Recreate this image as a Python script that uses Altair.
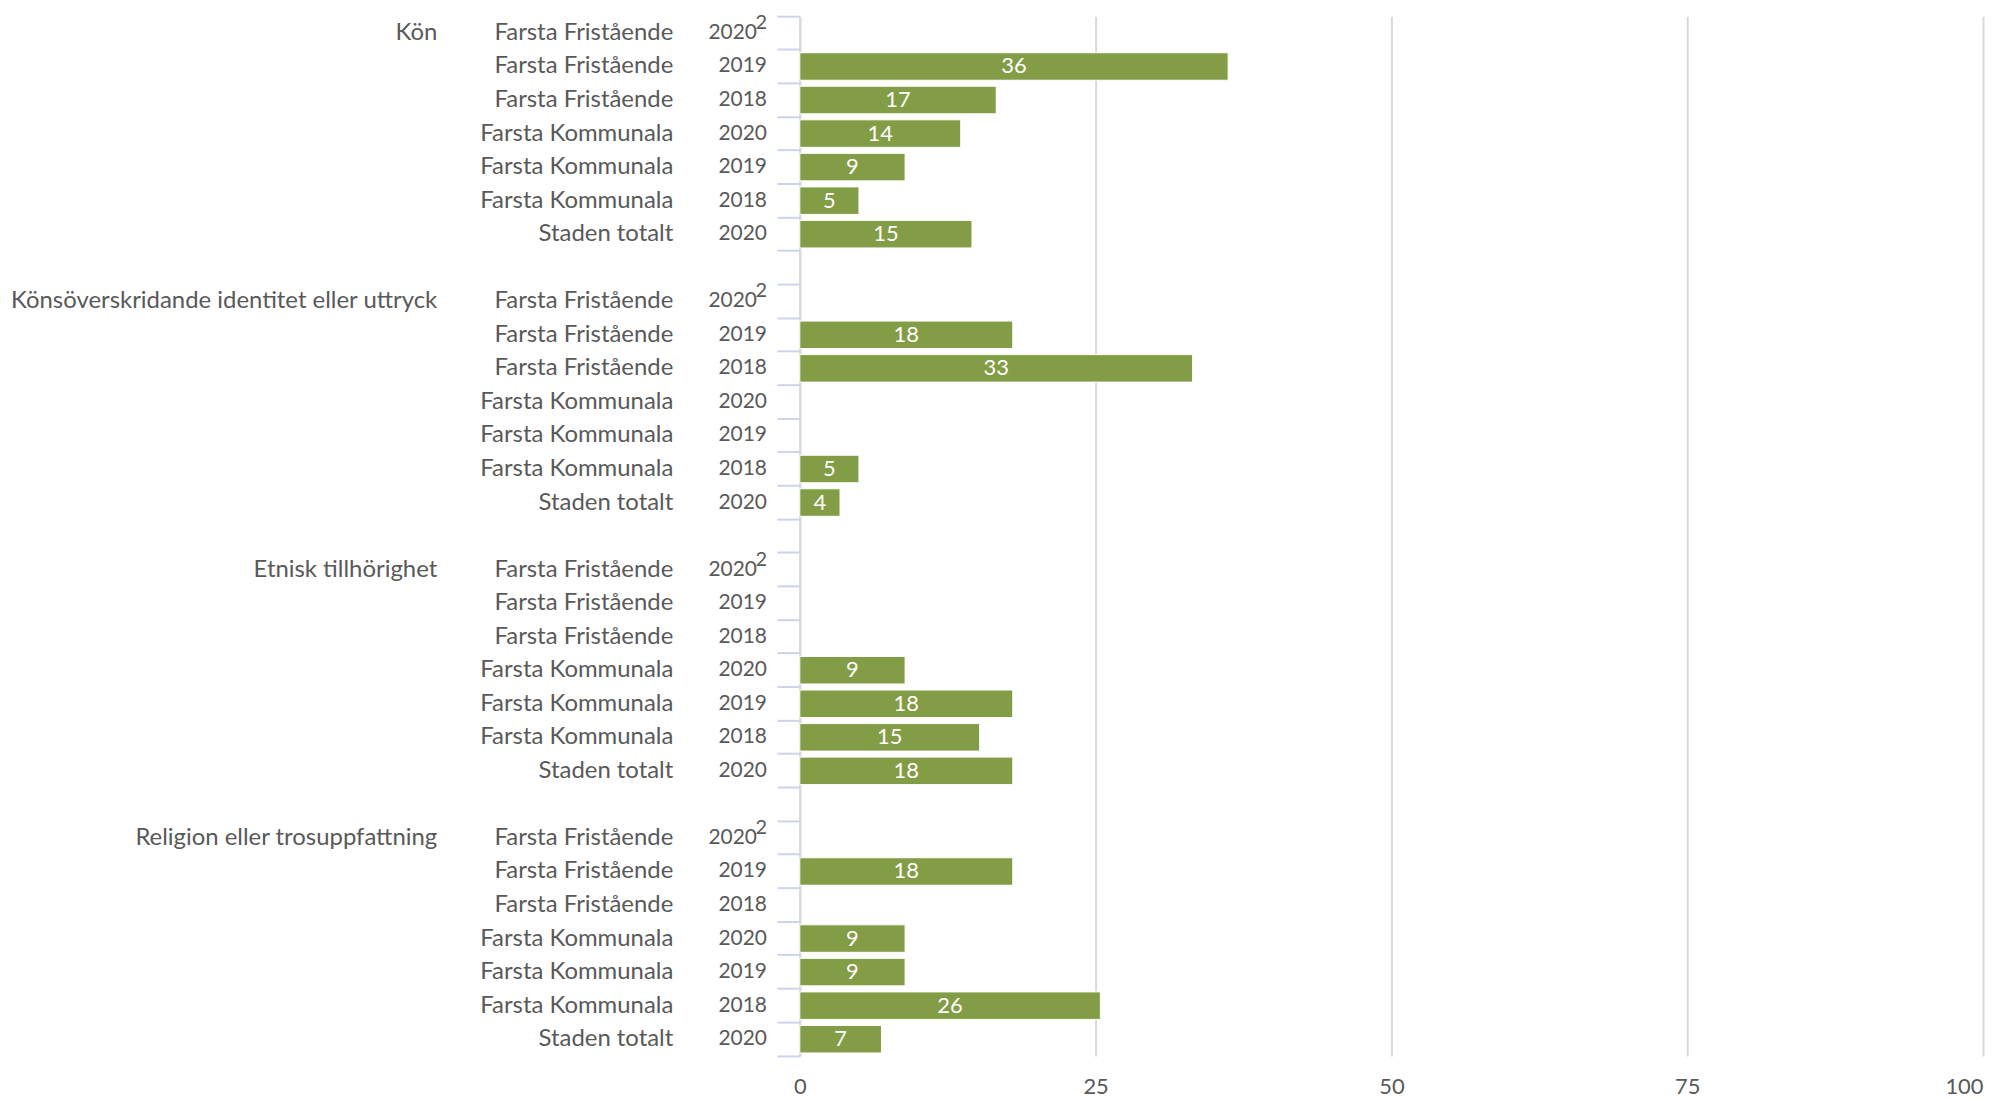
import altair as alt
import pandas as pd

groups = ["Kön", "Könsöverskridande identitet eller uttryck", "Etnisk tillhörighet", "Religion eller trosuppfattning"]
schools = ["Farsta Fristående", "Farsta Fristående", "Farsta Fristående",
           "Farsta Kommunala", "Farsta Kommunala", "Farsta Kommunala", "Staden totalt"]
years = ["2020", "2019", "2018", "2020", "2019", "2018", "2020"]
year_notes = ["2", "", "", "", "", "", ""]

values_kon = [None, 36.2, 16.6, 13.6, 8.9, 5.0, 14.55]
values_konsoverskr = [None, 18.0, 33.2, None, None, 5.0, 3.4]
values_etnisk = [None, None, None, 8.9, 18.0, 15.2, 18.0]
values_religion = [None, 18.0, None, 8.9, 8.9, 25.4, 6.9]

labels_kon = ["", "36", "17", "14", "9", "5", "15"]
labels_konsoverskr = ["", "18", "33", "", "", "5", "4"]
labels_etnisk = ["", "", "", "9", "18", "15", "18"]
labels_religion = ["", "18", "", "9", "9", "26", "7"]

x_ticks = [0, 25, 50, 75, 100]

all_values = [values_kon, values_konsoverskr, values_etnisk, values_religion]
all_labels = [labels_kon, labels_konsoverskr, labels_etnisk, labels_religion]

records = []
row_ids = []
idx = 0
for gi, g in enumerate(groups):
    for ri in range(len(schools)):
        rid = f"r{idx:02d}"
        row_ids.append(rid)
        records.append({
            "row": rid,
            "group": g if ri == 0 else "",
            "school": schools[ri],
            "year": years[ri],
            "note": year_notes[ri],
            "value": all_values[gi][ri],
            "label": all_labels[gi][ri],
        })
        idx += 1
    if gi < len(groups) - 1:
        rid = f"r{idx:02d}"
        row_ids.append(rid)
        records.append({"row": rid, "group": "", "school": "", "year": "", "note": "",
                        "value": None, "label": ""})
        idx += 1

df = pd.DataFrame(records)

FONT = "Lato"
TXT = "#595959"

y_enc = alt.Y(
    "row:N",
    scale=alt.Scale(domain=row_ids, paddingInner=0, paddingOuter=0),
    axis=alt.Axis(labels=False, title=None, bandPosition=1, tickExtra=True,
                  tickSize=23, tickColor="#CBD4EA", tickWidth=2,
                  domainColor="#D9D9D9", domainWidth=2, grid=False),
)

x_scale = alt.Scale(domain=[0, 100], nice=False)

base = alt.Chart(df)

bars = base.transform_filter("isValid(datum.value)").mark_bar(
    height=alt.RelativeBandSize(0.82), color="#829D45",
    stroke="white", strokeWidth=1
).encode(
    x=alt.X("value:Q", scale=x_scale,
            axis=alt.Axis(values=x_ticks, grid=True, gridColor="#D9D9D9", gridWidth=2,
                          domain=False, ticks=False, labelPadding=21, labelFontSize=22,
                          labelColor=TXT, labelFont=FONT, title=None,
                          labelAlign={"condition": {"test": "datum.value === 100", "value": "right"},
                                      "value": "center"})),
    y=y_enc,
)

vtext = base.transform_filter("isValid(datum.value)").transform_calculate(
    mid="datum.value / 2"
).mark_text(color="white", fontSize=22, font=FONT, baseline="middle").encode(
    x=alt.X("mid:Q", scale=x_scale),
    y=y_enc,
    text="label:N",
)

t_year = base.transform_filter("datum.note == ''").mark_text(
    align="right", baseline="middle", fontSize=21, color=TXT, font=FONT).encode(
    x=alt.value(-33), y=y_enc, text="year:N")
t_year_noted = base.transform_filter("datum.note != ''").mark_text(
    align="right", baseline="middle", fontSize=21, color=TXT, font=FONT).encode(
    x=alt.value(-43), y=y_enc, text="year:N")
t_note = base.mark_text(
    align="right", baseline="middle", fontSize=20, color=TXT, font=FONT, dy=-10).encode(
    x=alt.value(-33), y=y_enc, text="note:N")
t_school = base.mark_text(align="right", baseline="middle", fontSize=24, color=TXT, font=FONT).encode(
    x=alt.value(-127), y=y_enc, text="school:N")
t_group = base.mark_text(align="right", baseline="middle", fontSize=24, color=TXT, font=FONT).encode(
    x=alt.value(-364), y=y_enc, text="group:N")

chart = alt.layer(bars, vtext, t_year, t_year_noted, t_note, t_school, t_group).properties(
    width=1188, height=1044,
    autosize=alt.AutoSizeParams(type="none"),
    padding={"left": 795, "top": 6, "right": 3, "bottom": 42},
).configure_view(stroke=None)

chart.save("out.html", embed_options={"renderer": "svg", "actions": False})
